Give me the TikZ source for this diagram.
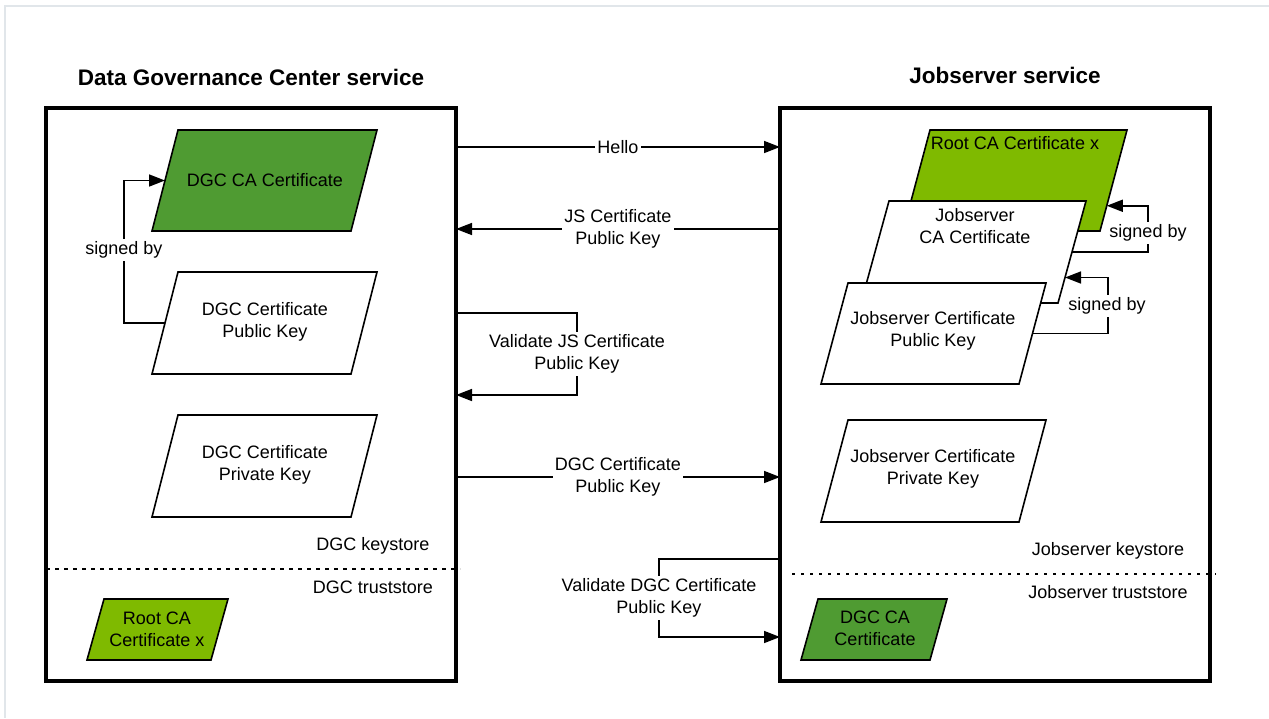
\documentclass[tikz,border=0pt]{standalone}
\usepackage{fontspec}
\setmainfont{Liberation Sans}
\usetikzlibrary{arrows.meta,calc}
\definecolor{dkgreen}{HTML}{4F9B32}
\definecolor{limegreen}{HTML}{7FBA00}
\definecolor{framegray}{HTML}{E1E6EA}
\newcommand\fsz{\fontsize{18}{22}\selectfont}
% #1 name, #2 x of bottom-left corner, #3 y of top edge, #4 edge width, #5 height, #6 slant, #7 fill
\newcommand\parashape[7]{%
  \filldraw[pshape, fill=#7] (#2+#6,#3) -- (#2+#6+#4,#3) -- (#2+#4,#3+#5) -- (#2,#3+#5) -- cycle;
  \coordinate (#1-tl) at (#2+#6,#3);
  \coordinate (#1-tr) at (#2+#6+#4,#3);
  \coordinate (#1-br) at (#2+#4,#3+#5);
  \coordinate (#1-bl) at (#2,#3+#5);
}
\begin{document}
\begin{tikzpicture}[x=1pt,y=-1pt, font=\fsz,
 svc/.style={draw, line width=3.5pt, minimum width=#1, minimum height=573pt, inner sep=0pt, outer sep=0pt},
 pshape/.style={draw=black, line width=1.6pt, line join=miter},
 conn/.style={line width=1.6pt},
 arr/.style={conn, -{Triangle[length=16pt,width=12pt]}},
 lbl/.style={fill=white, inner xsep=2pt, inner ysep=3pt, align=center},
 txt/.style={align=center},
 title/.style={font=\fontsize{22.5}{27}\selectfont\bfseries}]
\useasboundingbox (0,0) rectangle (1269,718);
% outer frame
\draw[framegray, line width=2pt] (5,718) -- (5,6) -- (1269,6);
% titles
\node[title] (t1) at (251,77) {Data Governance Center service};
\node[title] (t2) at (1005,75) {Jobserver service};
% service boxes
\node[svc=410pt] (dgc) at (251,394.5) {};
\node[svc=430pt] (jsb) at (995,394.5) {};
% left parallelograms
\parashape{dgcca}{152}{130}{199}{101}{26}{dkgreen}
\node[txt] (dgccatxt) at (265,180) {DGC CA Certificate};
\parashape{dgcpub}{152}{272}{199}{102}{26}{white}
\node[txt] (dgcpubtxt) at (265,322) {DGC Certificate\\Public Key};
\parashape{dgcpriv}{152}{415}{199}{102}{26}{white}
\node[txt] (dgcprivtxt) at (265,465) {DGC Certificate\\Private Key};
\parashape{dgcroot}{87}{599}{124}{61}{17}{limegreen}
\node[txt] (dgcroottxt) at (157,629) {Root CA\\Certificate x};
% right parallelograms
\parashape{jroot}{903}{130}{197}{101}{27}{limegreen}
\node[txt] (jroottxt) at (1015,143) {Root CA Certificate x};
\parashape{jsca}{861}{201}{197}{102}{28}{white}
\node[txt] (jscatxt) at (975,226) {Jobserver\\CA Certificate};
\parashape{jspub}{821}{283}{198}{101}{27}{white}
\node[txt] (jspubtxt) at (933,331) {Jobserver Certificate\\Public Key};
\parashape{jspriv}{821}{420}{198}{102}{27}{white}
\node[txt] (jsprivtxt) at (933,469) {Jobserver Certificate\\Private Key};
\parashape{jdgcca}{801}{599}{129}{61}{17}{dkgreen}
\node[txt] (jdgccatxt) at (875,628) {DGC CA\\Certificate};
% store separators
\draw[line width=1.5pt, dash pattern=on 4pt off 5pt] (dgc.west |- 0,569) -- (460,569);
\draw[line width=1.5pt, dash pattern=on 2.5pt off 6.5pt] (792,574) -- (1216,574);
\node (dks) at (373,546) {DGC keystore};
\node (dts) at (373,587) {DGC truststore};
\node (jks) at (1108,551) {Jobserver keystore};
\node (jts) at (1108,592) {Jobserver truststore};
% signed by (left)
\draw[arr] ($(dgcpub-tl)!0.5!(dgcpub-bl)$) -- (124,323) |- ($(dgcca-tl)!0.5!(dgcca-bl)$);
\node[lbl] (sb1) at (124,250) {signed by};
% signed by (right)
\draw[arr] ($(jsca-tr)!0.5!(jsca-br)$) -- (1148,252) |- ($(jroot-tr)!0.75!(jroot-br)$);
\node[lbl] (sb2) at (1148,233) {signed by};
\draw[arr] ($(jspub-tr)!0.5!(jspub-br)$) -- (1108,333.5) |- ($(jsca-tr)!0.75!(jsca-br)$);
\node[lbl] (sb3) at (1107,306) {signed by};
% messages
\draw[arr] (dgc.east |- 0,147) -- node[lbl] (m1) {Hello} (jsb.west |- 0,147);
\draw[arr] (jsb.west |- 0,229) -- node[lbl] (m2) {JS Certificate\\Public Key} (dgc.east |- 0,229);
\draw[arr] (dgc.east |- 0,313) -- (577,313) -- node[lbl] (m3) {Validate JS Certificate\\Public Key} (577,395) -- (dgc.east |- 0,395);
\draw[arr] (dgc.east |- 0,477) -- node[lbl] (m4) {DGC Certificate\\Public Key} (jsb.west |- 0,477);
\draw[arr] (jsb.west |- 0,559) -- (659,559) -- node[lbl] (m5) {Validate DGC Certificate\\Public Key} (659,637) -- (jsb.west |- 0,637);
\end{tikzpicture}
\end{document}
